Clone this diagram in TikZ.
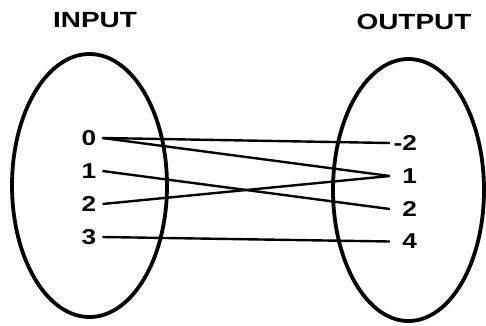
\documentclass[tikz,border=0pt]{standalone}
\usepackage{fontspec}
\setmainfont{Liberation Sans}
\usetikzlibrary{shapes.geometric}
\tikzset{
  setshape/.style={ellipse, draw, line width=3.8pt, inner sep=0pt},
  header/.style={inner sep=0pt, font=\fontsize{22}{22}\selectfont\bfseries},
  llab/.style={inner xsep=6pt, inner ysep=0pt, font=\fontsize{21.5}{21.5}\selectfont\bfseries},
  rlab/.style={inner xsep=3pt, inner ysep=0pt, text width=24pt, align=right, font=\fontsize{21.5}{21.5}\selectfont\bfseries},
  conn/.style={line width=2.4pt}
}
\newcommand{\hdwide}[1]{\scalebox{1.27}[1]{#1}}
\newcommand{\dgwide}[1]{\scalebox{1.22}[1]{#1}}
\begin{document}
\begin{tikzpicture}[x=1pt,y=-1pt]
\useasboundingbox (0,0) rectangle (486,325);
\node[setshape, minimum width=155pt, minimum height=263pt] (A) at (89.5,185.5) {};
\node[setshape, minimum width=151pt, minimum height=262pt] (B) at (408.5,190) {};
\node[header] (in) at (95,20) {\hdwide{INPUT}};
\node[header] (out) at (414,21.5) {\hdwide{OUTPUT}};
\node[llab] (l0) at (89,138) {\dgwide{0}};
\node[llab] (l1) at (89,171) {\dgwide{1}};
\node[llab] (l2) at (89,204) {\dgwide{2}};
\node[llab] (l3) at (89,237) {\dgwide{3}};
\node[rlab] (rm2) at (405,143) {\dgwide{-2}};
\node[rlab] (r1) at (405,176) {\dgwide{1}};
\node[rlab] (r2) at (405,209) {\dgwide{2}};
\node[rlab] (r4) at (405,241.5) {\dgwide{4}};
\draw[conn] (l0.east) -- (rm2.west);
\draw[conn] (l0.east) -- (r1.west);
\draw[conn] (l1.east) -- (r2.west);
\draw[conn] (l2.east) -- (r1.west);
\draw[conn] (l3.east) -- (r4.west);
\end{tikzpicture}
\end{document}
